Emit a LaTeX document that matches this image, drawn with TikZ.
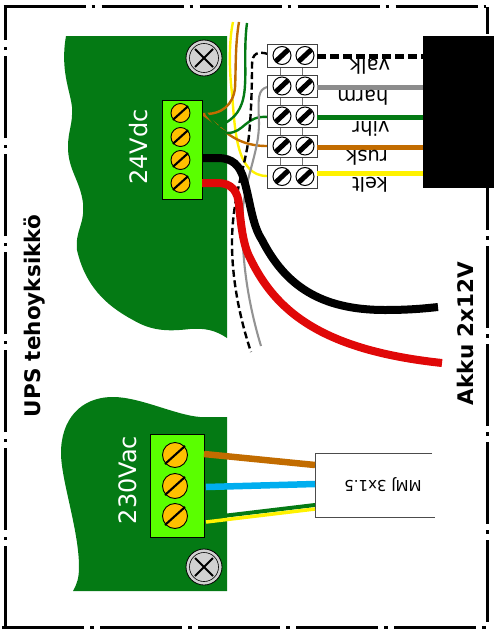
\documentclass[tikz,border=0pt]{standalone}
\usepackage{fontspec}
\setmainfont{DejaVu Sans}
\usetikzlibrary{calc}
\definecolor{boardgreen}{HTML}{047A14}
\definecolor{blockgreen}{HTML}{5AFF00}
\definecolor{screwgold}{HTML}{FFC000}
\definecolor{wirebrown}{HTML}{C26C00}
\definecolor{wireblue}{HTML}{00AEEF}
\definecolor{wiregreen}{HTML}{047A14}
\definecolor{wireyellow}{HTML}{FFF200}
\definecolor{wirered}{HTML}{E00808}
\tikzset{
	frameline/.style={line width=3pt, dash pattern=on 82pt off 6pt on 3.5pt off 6.5pt},
	board/.style={fill=boardgreen, draw=none},
	block/.style={fill=blockgreen, draw=black, line width=1pt},
	cablewire/.style={line width=8pt},
	thinwire/.style={line width=2.4pt},
	upside/.style={rotate=180, anchor=base, font=\fontsize{19.5}{19.5}\selectfont},
	sidelabel/.style={rotate=90, font=\bfseries\fontsize{21.5}{21.5}\selectfont},
	boardlabel/.style={rotate=90, text=white, font=\fontsize{24}{24}\selectfont},
}
\def\bigscrew(#1){
	\draw[fill=black!18, line width=0.8pt] (#1) circle (18);
	\draw[line width=0.6pt] (#1) circle (14.5);
	\draw[line width=2pt] ($(#1)+(-9,-9)$) -- ($(#1)+(9,9)$) ($(#1)+(-9,9)$) -- ($(#1)+(9,-9)$);
}
\def\goldscrew(#1)(#2){
	\draw[fill=screwgold, line width=0.9pt] (#1) circle (#2);
	\draw[line width=2.1pt] ($(#1)+({-0.8*#2},{0.72*#2})$) -- ($(#1)+({0.8*#2},{-0.72*#2})$);
}
\def\slotscrew(#1){
	\draw[fill=white, line width=1pt] (#1) circle (9);
	\draw[line width=5pt] ($(#1)+(-6.2,5.8)$) -- ($(#1)+(6.2,-5.8)$);
}

\begin{document}
\begin{tikzpicture}[x=1pt, y=-1pt]
	\useasboundingbox (0, 0) rectangle (494, 629);

	%%%%% FRAME %%%%%
	\draw[frameline] (3.5, 6) -- (486, 6);
	\draw[frameline, dash phase=1pt] (5, 627) -- (5, 6);
	\draw[frameline] (2, 627) -- (486, 627);
	\draw[frameline, dash phase=54.75pt] (487, 7) -- (487, 622);

	%%%%% BOARDS %%%%%
	\draw[board] (66, 36) -- (227, 36) -- (227, 338)
		.. controls (215, 330) and (205, 328) .. (190, 329)
		.. controls (165, 332) and (150, 330) .. (133, 320)
		.. controls (105, 305) and (85, 285) .. (77, 250)
		.. controls (75, 230) and (85, 225) .. (83, 203)
		.. controls (80, 180) and (68, 170) .. (68, 147)
		.. controls (68, 130) and (73, 125) .. (72, 107)
		.. controls (70, 90) and (60, 70) .. (66, 36) -- cycle;
	\draw[board] (227, 417) -- (200, 417)
		.. controls (175, 415) and (140, 397) .. (113, 397)
		.. controls (80, 397) and (61, 420) .. (61, 453)
		.. controls (61, 480) and (79, 530) .. (79, 567)
		.. controls (79, 578) and (77, 584) .. (73, 591) -- (227, 591) -- cycle;

	%%%%% THIN WIRES %%%%%
	\draw[thinwire, wireyellow] (233, 22) .. controls (229, 40) and (229, 70) .. (232, 93)
		.. controls (235, 130) and (236, 176) .. (267, 176);
	\draw[thinwire, wirebrown] (239, 22) .. controls (235, 45) and (236, 70) .. (235, 88)
		.. controls (233, 105) and (222, 115) .. (202, 114);
	\draw[thinwire, wirebrown] (202, 114) .. controls (222, 126) and (232, 146) .. (267, 146);
	\draw[thinwire, wiregreen] (247, 23) .. controls (244, 45) and (246, 70) .. (245, 85)
		.. controls (244, 105) and (238, 115) .. (227, 122) -- (206, 134);
	\draw[thinwire, wiregreen] (268, 117) .. controls (245, 115) and (245, 133) .. (227, 133)
		-- (220, 129) -- (213, 122) -- (206, 113);
	\draw[thinwire, line width=2.1pt, draw=gray!85] (267, 87) .. controls (258, 90) and (258, 97) .. (259, 123)
		.. controls (259, 150) and (248, 170) .. (243, 207)
		.. controls (240, 260) and (250, 310) .. (261, 346);
	\draw[thinwire, dash pattern=on 7pt off 3.5pt, black] (268, 54) .. controls (258, 51) and (252, 53) .. (252, 65)
		.. controls (252, 100) and (250, 130) .. (248, 143)
		.. controls (244, 170) and (232, 200) .. (232, 243)
		.. controls (232, 285) and (242, 325) .. (251, 352);

	%%%%% TOP BLOCK %%%%%
	\node[block, minimum width=40pt, minimum height=99pt, inner sep=0pt] (dcblock) at (182, 149.5) {};
	\bigscrew(204, 58)
	\goldscrew(180.5, 113)(9.5)
	\goldscrew(180.5, 137)(9.5)
	\goldscrew(180.5, 160)(9.5)
	\goldscrew(180.5, 183)(9.5)
	\node[boardlabel] (dclabel) at (139, 147) {24Vdc};

	%%%%% BATTERY %%%%%
	\draw[cablewire, black] (202, 158) -- (218, 158) .. controls (232, 158) and (240, 165) .. (244, 180)
		.. controls (250, 200) and (252, 225) .. (262, 240)
		.. controls (285, 285) and (320, 310) .. (385, 310)
		.. controls (405, 310) and (420, 309) .. (438, 307);
	\draw[cablewire, wirered] (202, 183) -- (218, 183) .. controls (232, 183) and (238, 192) .. (239, 205)
		.. controls (241, 225) and (243, 245) .. (250, 258)
		.. controls (275, 310) and (320, 350) .. (442, 363);
	\node[sidelabel] (batlabel) at (465, 333.5) {Akku 2x12V};

	%%%%% CONNECTOR STRIP %%%%%
	\fill[black] (423, 36) rectangle (494, 188);
	\draw[gray!90!black, line width=1pt] (280, 56) -- (280, 176) (302, 56) -- (302, 176);
	\foreach \ypos/\boxh in {55.5/23, 86/22, 116/22, 146/22, 176.5/23} {
		\draw[fill=white, draw=black!75, line width=1pt] (267, \ypos-\boxh/2) rectangle (317, \ypos+\boxh/2);
		\slotscrew(282, \ypos)
		\slotscrew(305, \ypos)
	}
	\draw[line width=5pt, dash pattern=on 9pt off 4pt] (317, 56) -- (423, 56);
	\draw[line width=5pt, draw=gray!90] (317, 87) -- (423, 87);
	\draw[line width=5pt, wiregreen] (317, 117) -- (423, 117);
	\draw[line width=5pt, wirebrown] (317, 147) -- (423, 147);
	\draw[line width=5pt, wireyellow] (317, 173.5) -- (423, 173.5);
	\node[upside] (valklabel) at (370, 59) {valk};
	\node[upside] (harmlabel) at (363, 90) {harm};
	\node[upside] (vihrlabel) at (371, 121.5) {vihr};
	\node[upside] (rusklabel) at (367, 150.5) {rusk};
	\node[upside] (keltlabel) at (370, 177.5) {kelt};

	%%%%% LOWER BLOCK %%%%%
	\node[block, minimum width=54pt, minimum height=103pt, inner sep=0pt] (acblock) at (177, 485.5) {};
	\bigscrew(204, 567)
	\goldscrew(175, 455)(12.5)
	\goldscrew(175, 486)(12.5)
	\goldscrew(175, 516)(12.5)
	\node[boardlabel] (aclabel) at (128, 480) {230Vac};

	\draw[black!70, line width=1pt] (432, 453) -- (315, 453) -- (315, 517) -- (435, 517);
	\node[rotate=180, font=\fontsize{15}{15}\selectfont] (cablelabel) at (383, 485) {MMJ 3x1.5};

	\draw[line width=6.5pt, wirebrown] (204, 454) -- (315, 465);
	\draw[line width=6.5pt, wireblue] (206, 487) -- (315, 484);
	\draw[line width=4pt, wiregreen] (206, 518) -- (315, 505);
	\draw[line width=3.5pt, wireyellow] (206, 522) -- (315, 509);

	\node[sidelabel] (upslabel) at (34, 316) {UPS tehoyksikkö};
\end{tikzpicture}
\end{document}
